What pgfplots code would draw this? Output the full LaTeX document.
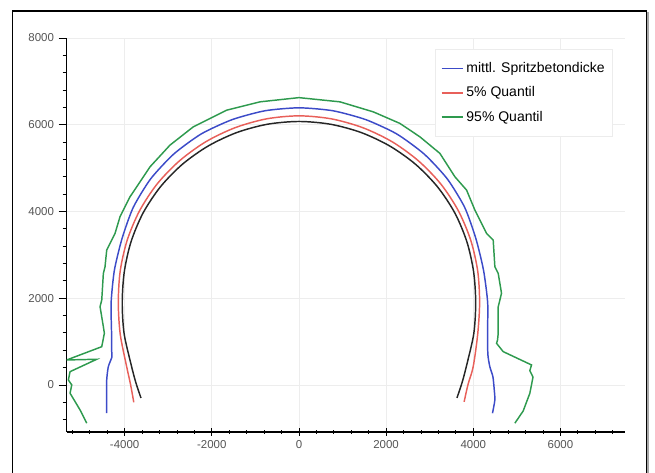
\documentclass[border=0pt]{standalone}
\usepackage{fontspec}
\setmainfont{Liberation Sans}
\usepackage{pgfplots}
\pgfplotsset{compat=1.18}
\usepackage{xcolor}
\definecolor{meanblue}{HTML}{3C4BC8}
\definecolor{qred}{HTML}{E8605A}
\definecolor{qgreen}{HTML}{2E9A4E}
\definecolor{ticktext}{HTML}{555555}

\begin{document}
\begin{tikzpicture}
\begin{axis}[
    scale only axis,
    width=418.7pt,
    height=295.5pt,
    xmin=-5330, xmax=7480,
    ymin=-1085, ymax=8000,
    axis x line*=bottom,
    axis y line*=left,
    axis line style={-, black, line width=0.8pt},
    xtick={-4000,-2000,0,2000,4000,6000},
    xticklabels={-4000,-2000,0,2000,4000,6000},
    ytick={0,2000,4000,6000,8000},
    yticklabels={0,2000,4000,6000,8000},
    minor xtick={-5200,-4800,-4400,-3600,-3200,-2800,-2400,-1600,-1200,-800,-400,400,800,1200,1600,2400,2800,3200,3600,4400,4800,5200,5600,6400,6800,7200},
    minor ytick={-800,-400,400,800,1200,1600,2400,2800,3200,3600,4400,4800,5200,5600,6400,6800,7200,7600},
    xtick align=center,
    ytick align=outside,
    major tick length=6pt,
    minor tick length=3pt,
    tick style={black, line width=0.6pt},
    xmajorgrids, ymajorgrids,
    grid style={gray!14, line width=0.6pt},
    ticklabel style={font=\fontsize{8.6}{10}\selectfont, text=ticktext},
    legend style={
        at={(0.9785,0.972)},
        anchor=north east,
        draw=gray!15,
        fill=white,
        font=\fontsize{10.5}{12}\selectfont,
        inner xsep=4pt,
        inner ysep=8pt,
        row sep=5pt,
        cells={anchor=west},
    },
    legend image code/.code={\draw[#1] (0pt,0pt) -- (16pt,0pt);},
    every axis plot/.append style={line width=1.1pt, mark=none},
]
\draw[gray!14, line width=0.6pt] (rel axis cs:1,0) -- (rel axis cs:1,1);

% design profile
\addplot[black!85, smooth, forget plot] coordinates {
    (-3625,-300) (-3748,72) (-3858,496) (-4013,1193) (-4055,1900) (-4008,2607)
    (-3853,3302) (-3577,3965) (-3179,4568) (-2675,5088) (-2084,5509) (-1427,5820)
    (-725,6011) (0,6075) (725,6011) (1427,5820) (2084,5509) (2675,5088)
    (3179,4568) (3577,3965) (3853,3302) (4008,2607) (4055,1900) (4013,1193)
    (3858,496) (3748,72) (3625,-300)
};

\addplot[meanblue, smooth, tension=0.4] coordinates {
    (-4411,-652) (-4411,-300) (-4411,115) (-4374,422) (-4290,650) (-4300,806)
    (-4300,1191) (-4310,1900) (-4235,2646) (-4059,3377) (-3802,4095) (-3401,4754)
    (-2873,5324) (-2244,5787) (-1535,6117) (-780,6322) (0,6390) (780,6322)
    (1535,6117) (2244,5787) (2873,5324) (3401,4754) (3802,4095) (4059,3377)
    (4235,2646) (4330,1900) (4327,1191) (4335,700) (4380,420) (4450,190)
    (4480,-100) (4495,-346) (4440,-652)
};

\addplot[qred, smooth] coordinates {
    (-3790,-400) (-3865,15) (-3961,458) (-4102,1177) (-4145,1900) (-4102,2623)
    (-3942,3335) (-3659,4013) (-3256,4632) (-2742,5167) (-2140,5606) (-1467,5931)
    (-746,6135) (0,6205) (746,6135) (1467,5931) (2140,5606) (2742,5167)
    (3256,4632) (3659,4013) (3942,3335) (4102,2623) (4145,1900) (4102,1177)
    (3998,422) (3880,15) (3790,-390)
};

\addplot[qgreen] coordinates {
    (-4869,-882) (-5023,-576) (-5252,-191) (-5213,0) (-5291,115) (-5252,306)
    (-4640,592) (-5328,576) (-4525,882) (-4465,1191) (-4488,1343) (-4564,1804)
    (-4525,1958) (-4488,2573) (-4450,2726) (-4411,3111) (-4296,3341) (-4220,3495)
    (-4106,3878) (-3876,4339) (-3417,5030) (-2959,5530) (-2424,5952) (-2041,6145)
    (-1659,6336) (-894,6528) (0,6625) (940,6528) (1705,6297) (2317,6030)
    (2775,5721) (3234,5339) (3578,4800) (3846,4493) (4037,4032) (4305,3495)
    (4457,3341) (4495,2726) (4572,2573) (4648,2113) (4610,1958) (4572,1804)
    (4572,1191) (4557,1037) (4534,960) (4686,768) (5336,461) (5298,330)
    (5370,180) (5298,-191) (5145,-600) (4954,-882)
};

\legend{mittl. Spritzbetondicke, 5\% Quantil, 95\% Quantil}
\end{axis}
\draw[black, line width=0.8pt] (-40.3pt,-40pt) rectangle (435.2pt,315.75pt);
\draw[gray!70, line width=1.5pt] (436.2pt,-40pt) -- (436.2pt,315.2pt);
\pgfresetboundingbox
\useasboundingbox (-50pt,-30.75pt) rectangle (441.25pt,324pt);
\end{tikzpicture}
\end{document}
